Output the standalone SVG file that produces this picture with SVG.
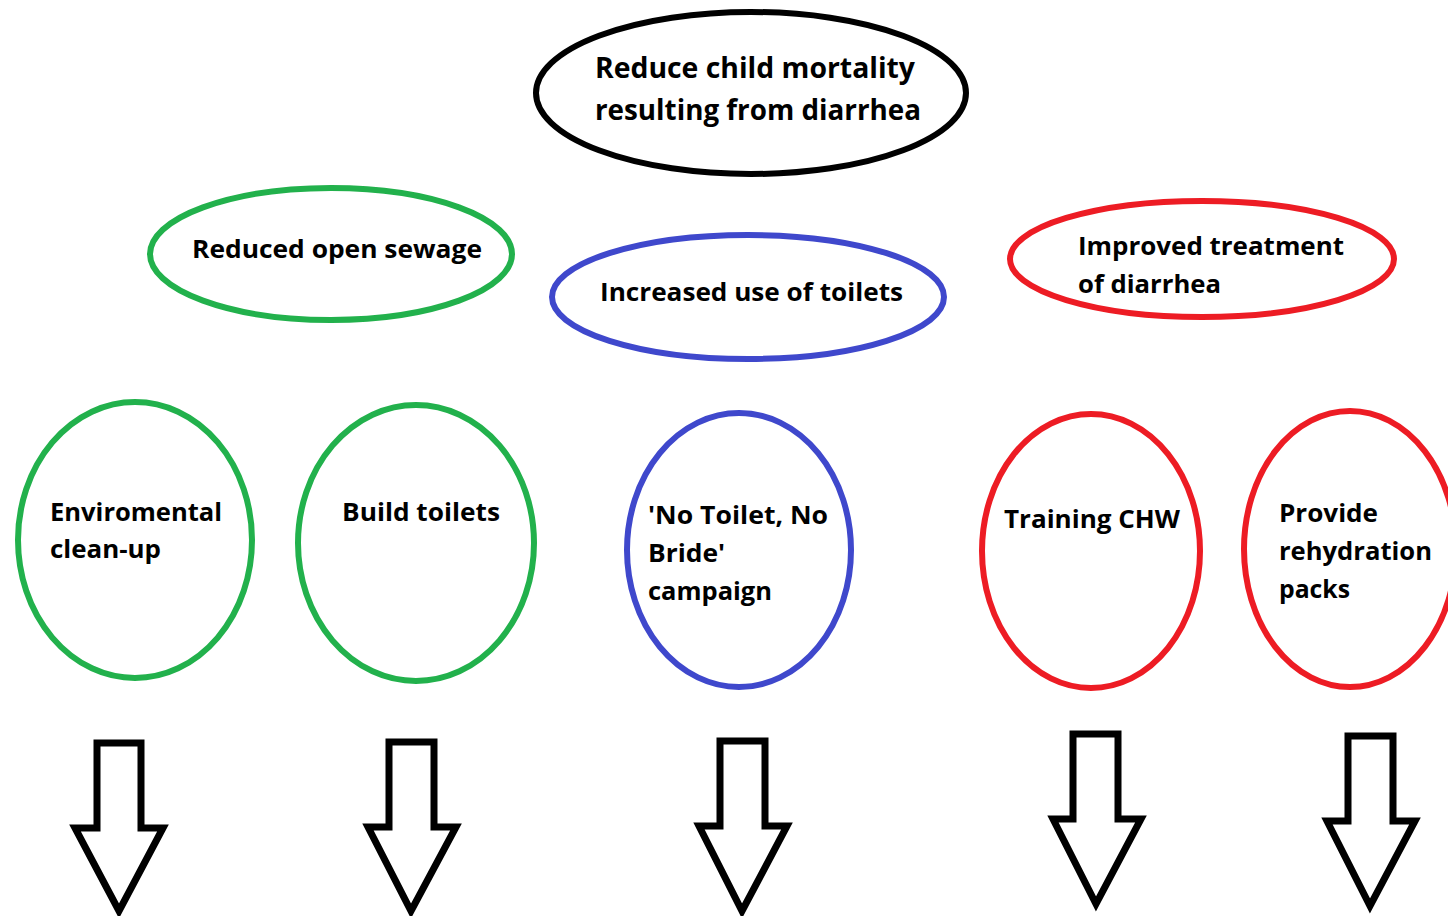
<svg xmlns="http://www.w3.org/2000/svg" width="1448" height="916" viewBox="0 0 1448 916">
<style>
.t{font-family:"Open Sans","Liberation Sans",sans-serif;font-weight:700;fill:#000}
.big{font-size:28px}
.med{font-size:25px}
.n{fill:none;stroke-width:6}
.k{stroke:#000}
.g{stroke:#22b14c}
.b{stroke:#3f48cc}
.r{stroke:#ed1c24}
.arr{fill:#fff;stroke:#000;stroke-width:7;stroke-linejoin:miter}
</style>
<rect width="1448" height="916" fill="#fff"/>
<g id="goal">
<ellipse class="n k" cx="751" cy="93" rx="215" ry="81"/>
<text class="t big" x="595" y="78" textLength="320" lengthAdjust="spacingAndGlyphs">Reduce child mortality</text>
<text class="t big" x="595" y="120" textLength="326" lengthAdjust="spacingAndGlyphs">resulting from diarrhea</text>
</g>
<g id="sewage">
<ellipse class="n g" cx="331" cy="254" rx="181" ry="66"/>
<text class="t med" x="192" y="258" textLength="290" lengthAdjust="spacingAndGlyphs">Reduced open sewage</text>
</g>
<g id="toilets-use">
<ellipse class="n b" cx="748" cy="297" rx="196" ry="62"/>
<text class="t med" x="600" y="301" textLength="303" lengthAdjust="spacingAndGlyphs">Increased use of toilets</text>
</g>
<g id="treatment">
<ellipse class="n r" cx="1202" cy="259" rx="192" ry="58"/>
<text class="t med" x="1078" y="255" textLength="266" lengthAdjust="spacingAndGlyphs">Improved treatment</text>
<text class="t med" x="1078" y="293" textLength="143" lengthAdjust="spacingAndGlyphs">of diarrhea</text>
</g>
<g id="cleanup">
<ellipse class="n g" cx="135" cy="540" rx="117" ry="138"/>
<text class="t med" x="50" y="521" textLength="172" lengthAdjust="spacingAndGlyphs">Enviromental</text>
<text class="t med" x="50" y="558" textLength="111" lengthAdjust="spacingAndGlyphs">clean-up</text>
</g>
<g id="build">
<ellipse class="n g" cx="416" cy="543" rx="118" ry="138"/>
<text class="t med" x="342" y="521" textLength="158" lengthAdjust="spacingAndGlyphs">Build toilets</text>
</g>
<g id="campaign">
<ellipse class="n b" cx="739" cy="550" rx="112" ry="137"/>
<text class="t med" x="648" y="524" textLength="180" lengthAdjust="spacingAndGlyphs">'No Toilet, No</text>
<text class="t med" x="648" y="562" textLength="77" lengthAdjust="spacingAndGlyphs">Bride'</text>
<text class="t med" x="648" y="600" textLength="124" lengthAdjust="spacingAndGlyphs">campaign</text>
</g>
<g id="chw">
<ellipse class="n r" cx="1091" cy="551" rx="109" ry="137"/>
<text class="t med" x="1004" y="528" textLength="176" lengthAdjust="spacingAndGlyphs">Training CHW</text>
</g>
<g id="rehydration">
<ellipse class="n r" cx="1350" cy="549" rx="106" ry="138"/>
<text class="t med" x="1279" y="522" textLength="99" lengthAdjust="spacingAndGlyphs">Provide</text>
<text class="t med" x="1279" y="560" textLength="153" lengthAdjust="spacingAndGlyphs">rehydration</text>
<text class="t med" x="1279" y="598" textLength="71" lengthAdjust="spacingAndGlyphs">packs</text>
</g>
<g id="connectors">
<polygon class="arr" points="97,743 141,743 141,828 163,828 119,911 75,828 97,828"/>
<polygon class="arr" points="389,742 434,742 434,827 456,827 411,911 368,827 389,827"/>
<polygon class="arr" points="720,741 765,741 765,826 787,826 742,911 699,826 720,826"/>
<polygon class="arr" points="1073,734 1118,734 1118,819 1141,819 1096,904 1053,819 1073,819"/>
<polygon class="arr" points="1348,736 1393,736 1393,821 1415,821 1370,906 1327,821 1348,821"/>
</g>
</svg>
